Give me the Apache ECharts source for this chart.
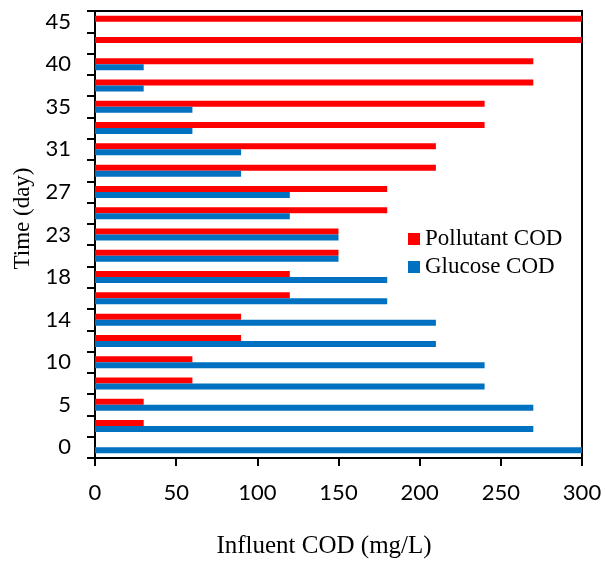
<!DOCTYPE html>
<html><head><meta charset="utf-8">
<script src="https://cdn.jsdelivr.net/npm/echarts@6/dist/echarts.min.js"></script>
<style>html,body{margin:0;padding:0;background:#fff}#c{width:605px;height:561px}</style>
</head><body><div id="c"></div>
<script>
const dayLabels = ['0','','5','','10','','14','','18','','23','','27','','31','','35','','40','','45'];
const glucoseCOD = [300,270,270,240,240,210,210,180,180,150,150,120,120,90,90,60,60,30,30,0,0];
const pollutantCOD = [0,30,30,60,60,90,90,120,120,150,150,180,180,210,210,240,240,270,270,300,300];
const xTicks = [0,50,100,150,200,250,300];

const chart = echarts.init(document.getElementById('c'));
chart.setOption({
  animation: false,
  grid: {left: 95, right: 23, top: 11, bottom: 103, show: true, borderColor: '#000', borderWidth: 2,
         backgroundColor: 'transparent', outerBoundsMode: 'none', containLabel: false},
  legend: {
    orient: 'vertical', left: 403, top: 222, icon: 'rect', itemWidth: 12, itemHeight: 12, itemGap: 4,
    data: ['Pollutant COD', 'Glucose COD'],
    textStyle: {fontFamily: 'Liberation Serif', fontSize: 23, color: '#000', lineHeight: 24}
  },
  xAxis: {
    type: 'value', min: xTicks[0], max: xTicks[xTicks.length-1], interval: 50,
    splitLine: {show: false},
    axisLine: {show: true, lineStyle: {color: '#000', width: 2}},
    axisTick: {show: true, length: 8, lineStyle: {color: '#000', width: 2}},
    axisLabel: {margin: 24, fontFamily: 'Lato', fontSize: 22, color: '#000'},
    name: 'Influent COD (mg/L)', nameLocation: 'middle', nameGap: 76,
    nameTextStyle: {fontFamily: 'Liberation Serif', fontSize: 25, color: '#000', padding: [0, 29, 0, 0]}
  },
  yAxis: {
    type: 'category', data: dayLabels,
    axisLine: {show: true, lineStyle: {color: '#000', width: 2}},
    axisTick: {show: true, interval: 0, length: 8, lineStyle: {color: '#000', width: 2}},
    axisLabel: {interval: 0, margin: 24, fontFamily: 'Lato', fontSize: 22, color: '#000'},
    name: 'Time (day)', nameLocation: 'middle', nameGap: 60,
    nameTextStyle: {fontFamily: 'Liberation Serif', fontSize: 23, color: '#000', padding: [0, 0, 0, 32]}
  },
  series: [
    {name: 'Pollutant COD', type: 'bar', data: pollutantCOD, barWidth: 6, barGap: '0%', itemStyle: {color: '#FF0000'}},
    {name: 'Glucose COD', type: 'bar', data: glucoseCOD, barWidth: 6, barGap: '0%', itemStyle: {color: '#0070C0'}}
  ]
});
</script></body></html>
